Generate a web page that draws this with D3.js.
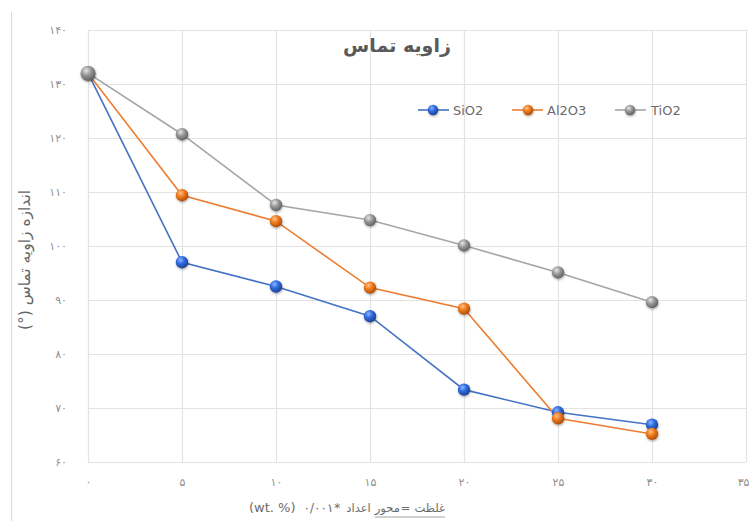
<!DOCTYPE html>
<html>
<head>
<meta charset="utf-8">
<script src="https://cdn.jsdelivr.net/npm/d3@7"></script>
<style>
  html, body { margin: 0; padding: 0; background: #fff; }
  svg { display: block; }
  text { font-family: "DejaVu Sans", "Noto Sans", sans-serif; }
</style>
</head>
<body>
<svg id="chart" width="750" height="521"></svg>
<script>
// ---- data ----
const xValues = [0, 5, 10, 15, 20, 25, 30];
const seriesNames = ["SiO2", "Al2O3", "TiO2"];
const sio2 = [132, 97.0, 92.5, 87.0, 73.4, 69.2, 66.9];
const al2o3 = [132, 109.4, 104.6, 92.3, 88.4, 68.1, 65.2];
const tio2 = [132, 120.7, 107.6, 104.8, 100.1, 95.1, 89.6];
const xTicks = [0, 5, 10, 15, 20, 25, 30, 35];
const xTickLabels = ["۰", "۵", "۱۰", "۱۵", "۲۰", "۲۵", "۳۰", "۳۵"];
const yTicks = [60, 70, 80, 90, 100, 110, 120, 130, 140];
const yTickLabels = ["۶۰", "۷۰", "۸۰", "۹۰", "۱۰۰", "۱۱۰", "۱۲۰", "۱۳۰", "۱۴۰"];
const titleText = "زاویه تماس";
const yTitleText = "اندازه زاویه تماس (°)";
// x-axis title words, in visual left-to-right order
const xTitleWords = ["(wt. %)", "۰/۰۰۱", "*", "اعداد", "محور", "=", "غلظت"];

const colors = { SiO2: "#4472C4", Al2O3: "#ED7D31", TiO2: "#A5A5A5" };
const seriesData = { SiO2: sio2, Al2O3: al2o3, TiO2: tio2 };

// ---- layout ----
const svg = d3.select("#chart");
const plot = { left: 88, top: 30, right: 746, bottom: 462 };
const x = d3.scaleLinear().domain([0, 35]).range([plot.left, plot.right]);
const y = d3.scaleLinear().domain([60, 140]).range([plot.bottom, plot.top]);

// chart frame left border
svg.append("line").attr("x1", 11.5).attr("x2", 11.5).attr("y1", 12).attr("y2", 521)
  .attr("stroke", "#d9d9d9").attr("stroke-width", 1);

// gradients for sphere markers
const defs = svg.append("defs");
function sphere(id, light, base, dark) {
  const g = defs.append("radialGradient").attr("id", id)
    .attr("cx", "38%").attr("cy", "32%").attr("r", "70%");
  g.append("stop").attr("offset", "0%").attr("stop-color", light);
  g.append("stop").attr("offset", "45%").attr("stop-color", base);
  g.append("stop").attr("offset", "100%").attr("stop-color", dark);
}
sphere("g-SiO2", "#8fb4ff", "#2f6be0", "#1b3f8f");
sphere("g-Al2O3", "#ffc28a", "#f07a1c", "#a84c0a");
sphere("g-TiO2", "#e6e6e6", "#9a9a9a", "#5e5e5e");
const shadow = defs.append("filter").attr("id", "shadow").attr("x", "-50%").attr("y", "-50%").attr("width", "200%").attr("height", "200%");
shadow.append("feDropShadow").attr("dx", 0.5).attr("dy", 1.2).attr("stdDeviation", 0.9).attr("flood-color", "#000").attr("flood-opacity", 0.35);

// ---- axes / gridlines ----
const yAxis = d3.axisLeft(y).tickValues(yTicks)
  .tickSize(-(plot.right - plot.left)).tickPadding(21)
  .tickFormat((d, i) => yTickLabels[i]);
const gy = svg.append("g").attr("transform", `translate(${plot.left},0)`).call(yAxis);
gy.select(".domain").remove();
gy.selectAll(".tick line").attr("stroke", "#e3e3e3").attr("stroke-width", 1.2);
gy.selectAll(".tick text").attr("fill", "#8f8f8f").attr("font-size", 11)
  .attr("font-family", "DejaVu Sans, sans-serif");

const xAxis = d3.axisBottom(x).tickValues(xTicks)
  .tickSize(-(plot.bottom - plot.top)).tickPadding(16)
  .tickFormat((d, i) => xTickLabels[i]);
const gx = svg.append("g").attr("transform", `translate(0,${plot.bottom})`).call(xAxis);
gx.select(".domain").remove();
gx.selectAll(".tick line").attr("stroke", "#e3e3e3").attr("stroke-width", 1.2);
gx.selectAll(".tick text").attr("fill", "#8f8f8f").attr("font-size", 11)
  .attr("font-family", "DejaVu Sans, sans-serif");
// last label sits at the window edge: keep it inside
gx.selectAll(".tick text").filter(d => d === 35)
  .attr("text-anchor", "end").attr("dx", 3);

// ---- lines & markers ----
const line = d3.line().x((d, i) => x(xValues[i])).y(d => y(d));
seriesNames.forEach(name => {
  svg.append("path").datum(seriesData[name])
    .attr("d", line).attr("fill", "none")
    .attr("stroke", colors[name]).attr("stroke-width", 1.6);
});
seriesNames.forEach(name => {
  svg.append("g").selectAll("circle").data(seriesData[name]).join("circle")
    .attr("cx", (d, i) => x(xValues[i])).attr("cy", d => y(d))
    .attr("r", (d, i) => (i === 0 && name === "TiO2") ? 7.5 : 6.2)
    .attr("fill", `url(#g-${name})`).attr("filter", "url(#shadow)");
});

// ---- title ----
svg.append("text").attr("x", 397).attr("y", 52).attr("text-anchor", "middle")
  .attr("font-size", 19).attr("font-weight", "bold").attr("fill", "#595959")
  .attr("direction", "rtl").style("unicode-bidi", "embed")
  .text(titleText);

// ---- legend ----
const legendItems = [
  { name: "SiO2", x1: 418, x2: 449, cx: 433, tx: 453 },
  { name: "Al2O3", x1: 512, x2: 543, cx: 528, tx: 547 },
  { name: "TiO2", x1: 615, x2: 646, cx: 630, tx: 651 }
];
const ly = 110;
legendItems.forEach(it => {
  svg.append("line").attr("x1", it.x1).attr("x2", it.x2).attr("y1", ly).attr("y2", ly)
    .attr("stroke", colors[it.name]).attr("stroke-width", 1.6);
  svg.append("circle").attr("cx", it.cx).attr("cy", ly).attr("r", 5.2)
    .attr("fill", `url(#g-${it.name})`).attr("filter", "url(#shadow)");
  svg.append("text").attr("x", it.tx).attr("y", ly).attr("dy", "0.36em")
    .attr("font-size", 13).attr("fill", "#6b6b6b")
    .attr("font-family", "Open Sans, DejaVu Sans, sans-serif")
    .text(it.name);
});

// ---- y axis title ----
svg.append("text")
  .attr("transform", "translate(30,260) rotate(-90)")
  .attr("text-anchor", "middle").attr("font-size", 15.5)
  .attr("fill", "#666").attr("direction", "rtl").style("unicode-bidi", "embed")
  .text(yTitleText);

// ---- x axis title (words laid out left to right) ----
const xtY = 512;
let cursor = 249;
const gapsAfter = [8, 1, 6, 4, 1, 4, 0];
const sizes = [13, 12, 12, 11.5, 11.5, 11.5, 11.5];
let underlineStart = null, underlineEnd = null;
xTitleWords.forEach((p, i) => {
  const t = svg.append("text").attr("x", cursor).attr("y", xtY)
    .attr("font-size", sizes[i]).attr("fill", "#6b6b6b")
    .attr("font-family", i === 0 ? "Open Sans, DejaVu Sans, sans-serif" : "DejaVu Sans, sans-serif")
    .text(p);
  const w = t.node().getComputedTextLength();
  if (i === 4) underlineStart = cursor;
  if (i === 6) underlineEnd = cursor + w;
  cursor += w + gapsAfter[i];
});
svg.append("line").attr("x1", underlineStart).attr("x2", underlineEnd)
  .attr("y1", xtY + 5).attr("y2", xtY + 5)
  .attr("stroke", "#8a8a8a").attr("stroke-width", 0.8);
</script>
</body>
</html>
